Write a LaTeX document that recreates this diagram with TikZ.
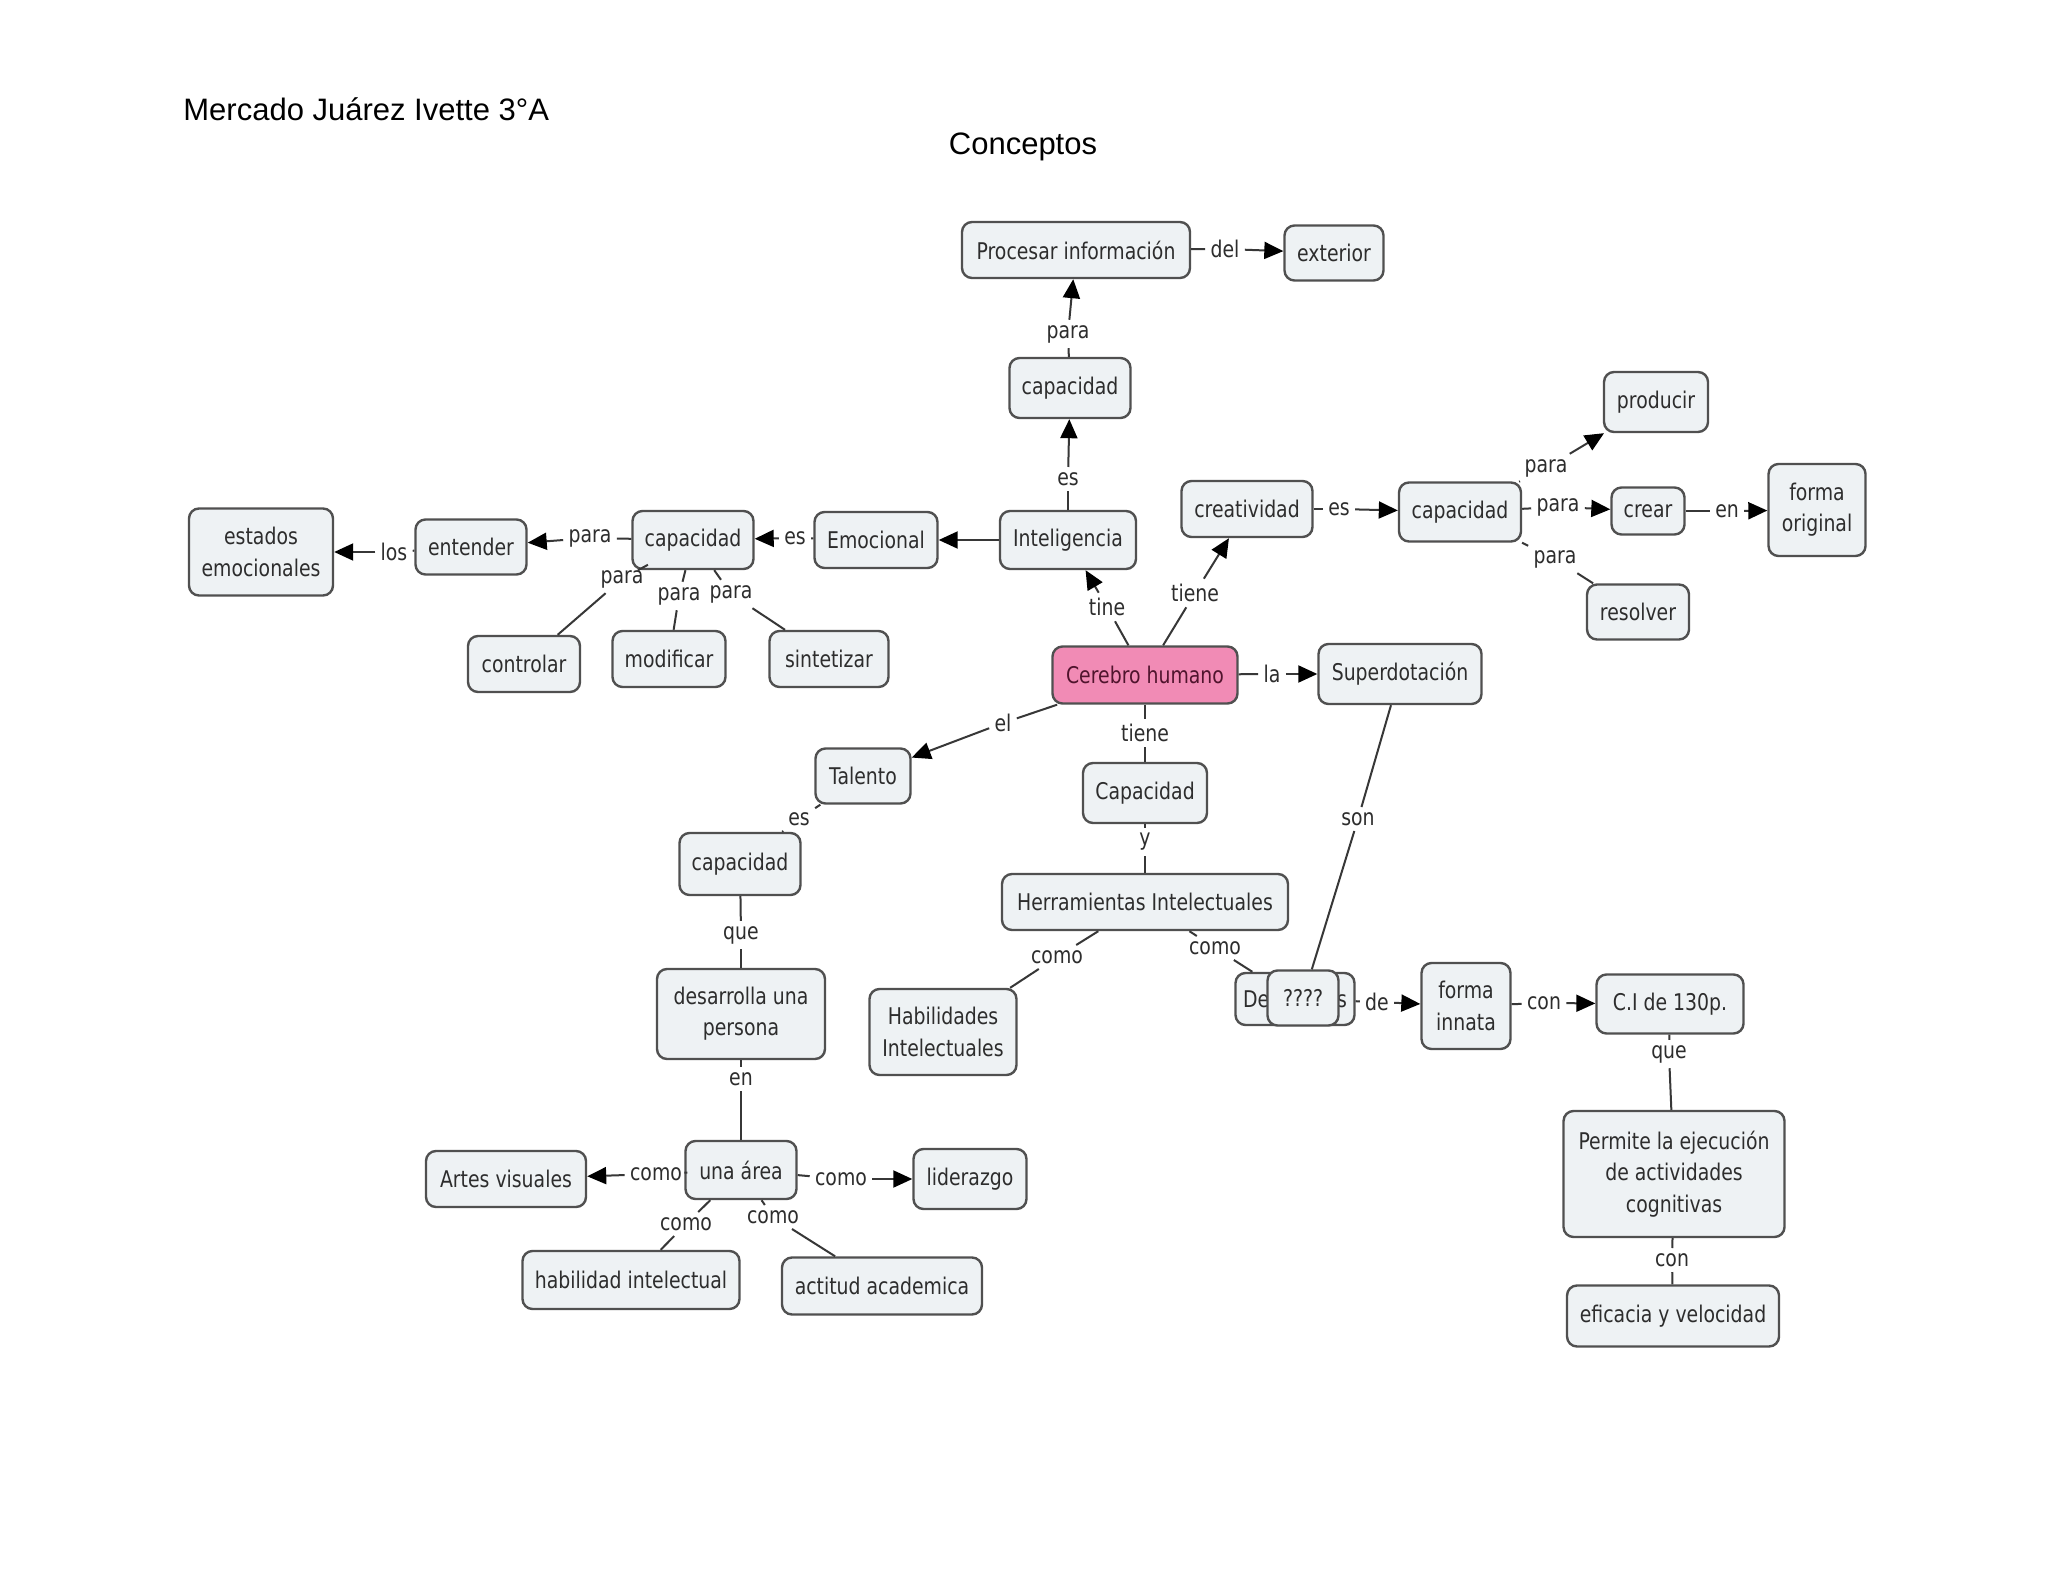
\documentclass[tikz,border=0pt]{standalone}
\usepackage{fontspec}
\setmainfont{Liberation Sans}
\newfontfamily\mapfont[FakeStretch=0.82]{DejaVu Sans}
\usetikzlibrary{arrows.meta}
\definecolor{nodefill}{RGB}{238,242,244}
\definecolor{nodeline}{RGB}{80,80,80}
\definecolor{txt}{RGB}{45,45,45}
\definecolor{linec}{RGB}{55,55,55}
\definecolor{pinkfill}{RGB}{241,139,181}
\definecolor{pinktxt}{RGB}{80,20,45}
\tikzset{
  cbox/.style={draw=nodeline, line width=1.2pt, fill=nodefill, rounded corners=5pt,
    text=txt, font=\mapfont\fontsize{11.5}{15.6}\selectfont, align=center, inner sep=2pt},
  lbl/.style={text=txt, font=\mapfont\fontsize{11.5}{15.6}\selectfont, inner sep=2.5pt},
  conn/.style={draw=linec, line width=1pt},
  arr/.style={conn, -{Triangle[length=9.5pt,width=8.5pt,color=black]}},
  hdr/.style={font=\fontsize{15.5}{18}\selectfont, text=black, inner sep=0pt}
}
\begin{document}
\begin{tikzpicture}[x=0.5pt,y=-0.5pt]
\fill[white] (0,0) rectangle (2048,1582);
\useasboundingbox (0,0) rectangle (2048,1582);

% header
\node[hdr, anchor=base west] (author) at (183,121) {Mercado Juárez Ivette 3°A};
\node[hdr, anchor=base] (title) at (1023,155) {Conceptos};

% concept nodes
\node[cbox, minimum width=114pt, minimum height=28pt] (proc) at (1076,250) {Procesar información};
\node[cbox, minimum width=49.5pt, minimum height=27.5pt] (ext) at (1334,253) {exterior};
\node[cbox, minimum width=60.5pt, minimum height=30pt] (capU) at (1070,388) {capacidad};
\node[cbox, minimum width=52pt, minimum height=30pt] (prod) at (1656,402) {producir};
\node[cbox, minimum width=65.5pt, minimum height=28pt] (crea) at (1247,509) {creatividad};
\node[cbox, minimum width=61pt, minimum height=29.5pt] (capR) at (1460,512) {capacidad};
\node[cbox, minimum width=36.5pt, minimum height=23.5pt] (crear) at (1648,511) {crear};
\node[cbox, minimum width=48.5pt, minimum height=46pt] (forig) at (1817,510) {forma\\original};
\node[cbox, minimum width=51pt, minimum height=27.5pt] (resol) at (1638,612) {resolver};
\node[cbox, minimum width=72pt, minimum height=43.5pt] (estados) at (261,552) {estados\\emocionales};
\node[cbox, minimum width=55.5pt, minimum height=27.5pt] (entender) at (471,547) {entender};
\node[cbox, minimum width=60.5pt, minimum height=29pt] (capL) at (693,540) {capacidad};
\node[cbox, minimum width=61.5pt, minimum height=28pt] (emoc) at (876,540) {Emocional};
\node[cbox, minimum width=68pt, minimum height=29pt] (intel) at (1068,540) {Inteligencia};
\node[cbox, minimum width=56pt, minimum height=28pt] (contr) at (524,664) {controlar};
\node[cbox, minimum width=56.5pt, minimum height=28pt] (modif) at (669,659) {modificar};
\node[cbox, minimum width=59.5pt, minimum height=28pt] (sint) at (829,659) {sintetizar};
\node[cbox, fill=pinkfill, text=pinktxt, minimum width=92.5pt, minimum height=28.5pt] (cere) at (1145,675) {Cerebro humano};
\node[cbox, minimum width=81.5pt, minimum height=30pt] (super) at (1400,674) {Superdotación};
\node[cbox, minimum width=47.5pt, minimum height=27.5pt] (tal) at (863,776) {Talento};
\node[cbox, minimum width=62pt, minimum height=30pt] (capC) at (1145,793) {Capacidad};
\node[cbox, minimum width=60.5pt, minimum height=31pt] (capTal) at (740,864) {capacidad};
\node[cbox, minimum width=143pt, minimum height=28pt] (herr) at (1145,902) {Herramientas Intelectuales};
\node[cbox, minimum width=84pt, minimum height=45pt] (desa) at (741,1014) {desarrolla una\\persona};
\node[cbox, minimum width=73.5pt, minimum height=43pt] (habs) at (943,1032) {Habilidades\\Intelectuales};
\node[cbox, minimum width=59.5pt, minimum height=26pt] (deB) at (1295,999) {De\hspace{34pt}s};
\node[cbox, minimum width=35.5pt, minimum height=27.5pt] (qq) at (1303,998) {????};
\node[cbox, minimum width=44.5pt, minimum height=43pt] (finn) at (1466,1006) {forma\\innata};
\node[cbox, minimum width=73.5pt, minimum height=29.5pt] (ci) at (1670,1004) {C.I de 130p.};
\node[cbox, minimum width=110.5pt, minimum height=63pt] (perm) at (1674,1174) {Permite la ejecución\\de actividades\\cognitivas};
\node[cbox, minimum width=106pt, minimum height=30.5pt] (efic) at (1673,1316) {eficacia y velocidad};
\node[cbox, minimum width=80pt, minimum height=28pt] (artes) at (506,1179) {Artes visuales};
\node[cbox, minimum width=55.5pt, minimum height=29pt] (area) at (741,1170) {una área};
\node[cbox, minimum width=56.5pt, minimum height=30pt] (lider) at (970,1179) {liderazgo};
\node[cbox, minimum width=108.5pt, minimum height=29pt] (habil) at (631,1280) {habilidad intelectual};
\node[cbox, minimum width=100pt, minimum height=28.5pt] (actit) at (882,1286) {actitud academica};

% linking labels
\node[lbl] (lDel) at (1225,249) {del};
\node[lbl] (lParaU) at (1068,334) {para};
\node[lbl] (lEsU) at (1068,479) {es};
\node[lbl] (lParaP) at (1546,468) {para};
\node[lbl] (lEsC) at (1339,509) {es};
\node[lbl] (lParaC) at (1558,507) {para};
\node[lbl] (lEn) at (1727,511) {en};
\node[lbl] (lParaR) at (1555,559) {para};
\node[lbl] (lTieneC) at (1195,593) {tiene};
\node[lbl] (lTine) at (1107,607) {tine};
\node[lbl] (lLa) at (1272,674) {la};
\node[lbl] (lTiene) at (1145,733) {tiene};
\node[lbl] (lY) at (1145,842) {y};
\node[lbl] (lEl) at (1003,723) {el};
\node[lbl] (lEsT) at (799,819) {es};
\node[lbl] (lQue) at (741,935) {que};
\node[lbl] (lEnD) at (741,1079) {en};
\node[lbl] (lSon) at (1358,819) {son};
\node[lbl] (lComoH) at (1057,957) {como};
\node[lbl] (lComoD) at (1215,948) {como};
\node[lbl] (lDe) at (1377,1002) {de};
\node[lbl] (lConF) at (1544,1003) {con};
\node[lbl] (lQueC) at (1669,1054) {que};
\node[lbl] (lConP) at (1672,1260) {con};
\node[lbl] (lLos) at (394,552) {los};
\node[lbl] (lParaE) at (590,538) {para};
\node[lbl] (lEsE) at (795,538) {es};
\node[lbl] (lParaCo) at (622,579) {para};
\node[lbl] (lParaMo) at (679,596) {para};
\node[lbl] (lParaSi) at (731,594) {para};
\node[lbl] (lComoA) at (656,1174) {como};
\node[lbl] (lComoL) at (841,1179) {como};
\node[lbl] (lComoHa) at (686,1224) {como};
\node[lbl] (lComoAc) at (773,1217) {como};

% connectors
\draw[conn] (proc) -- (lDel); \draw[arr] (lDel) -- (ext);
\draw[conn] (capU) -- (lParaU); \draw[arr] (lParaU) -- (proc);
\draw[conn] (intel) -- (lEsU); \draw[arr] (lEsU) -- (capU);
\draw[arr] (intel) -- (emoc);
\draw[conn] (emoc) -- (lEsE); \draw[arr] (lEsE) -- (capL);
\draw[conn] (capL) -- (lParaE); \draw[arr] (lParaE) -- (entender);
\draw[conn] (entender) -- (lLos); \draw[arr] (lLos) -- (estados);
\draw[conn] (capL) -- (lParaCo); \draw[conn] (lParaCo) -- (contr);
\draw[conn] (capL) -- (lParaMo); \draw[conn] (lParaMo) -- (modif);
\draw[conn] (capL) -- (lParaSi); \draw[conn] (lParaSi) -- (sint);
\draw[conn] (cere) -- (lTine); \draw[arr] (lTine) -- (intel);
\draw[conn] (cere) -- (lTieneC); \draw[arr] (lTieneC) -- (crea);
\draw[conn] (crea) -- (lEsC); \draw[arr] (lEsC) -- (capR);
\draw[conn] (capR) -- (lParaP); \draw[arr] (lParaP) -- (prod);
\draw[conn] (capR) -- (lParaC); \draw[arr] (lParaC) -- (crear);
\draw[conn] (crear) -- (lEn); \draw[arr] (lEn) -- (forig);
\draw[conn] (capR) -- (lParaR); \draw[conn] (lParaR) -- (resol);
\draw[conn] (cere) -- (lLa); \draw[arr] (lLa) -- (super);
\draw[conn] (cere) -- (lTiene); \draw[conn] (lTiene) -- (capC);
\draw[conn] (capC) -- (lY); \draw[conn] (lY) -- (herr);
\draw[conn] (herr) -- (lComoH); \draw[conn] (lComoH) -- (habs);
\draw[conn] (herr) -- (lComoD); \draw[conn] (lComoD) -- (deB);
\draw[conn] (super) -- (lSon); \draw[conn] (lSon) -- (qq);
\draw[conn] (deB) -- (lDe); \draw[arr] (lDe) -- (finn);
\draw[conn] (finn) -- (lConF); \draw[arr] (lConF) -- (ci);
\draw[conn] (ci) -- (lQueC); \draw[conn] (lQueC) -- (perm);
\draw[conn] (perm) -- (lConP); \draw[conn] (lConP) -- (efic);
\draw[conn] (cere) -- (lEl); \draw[arr] (lEl) -- (tal);
\draw[conn] (tal) -- (lEsT); \draw[conn] (lEsT) -- (capTal);
\draw[conn] (capTal) -- (lQue); \draw[conn] (lQue) -- (desa);
\draw[conn] (desa) -- (lEnD); \draw[conn] (lEnD) -- (area);
\draw[conn] (area) -- (lComoA); \draw[arr] (lComoA) -- (artes);
\draw[conn] (area) -- (lComoL); \draw[arr] (lComoL) -- (lider);
\draw[conn] (area) -- (lComoHa); \draw[conn] (lComoHa) -- (habil);
\draw[conn] (area) -- (lComoAc); \draw[conn] (lComoAc) -- (actit);
\end{tikzpicture}
\end{document}
